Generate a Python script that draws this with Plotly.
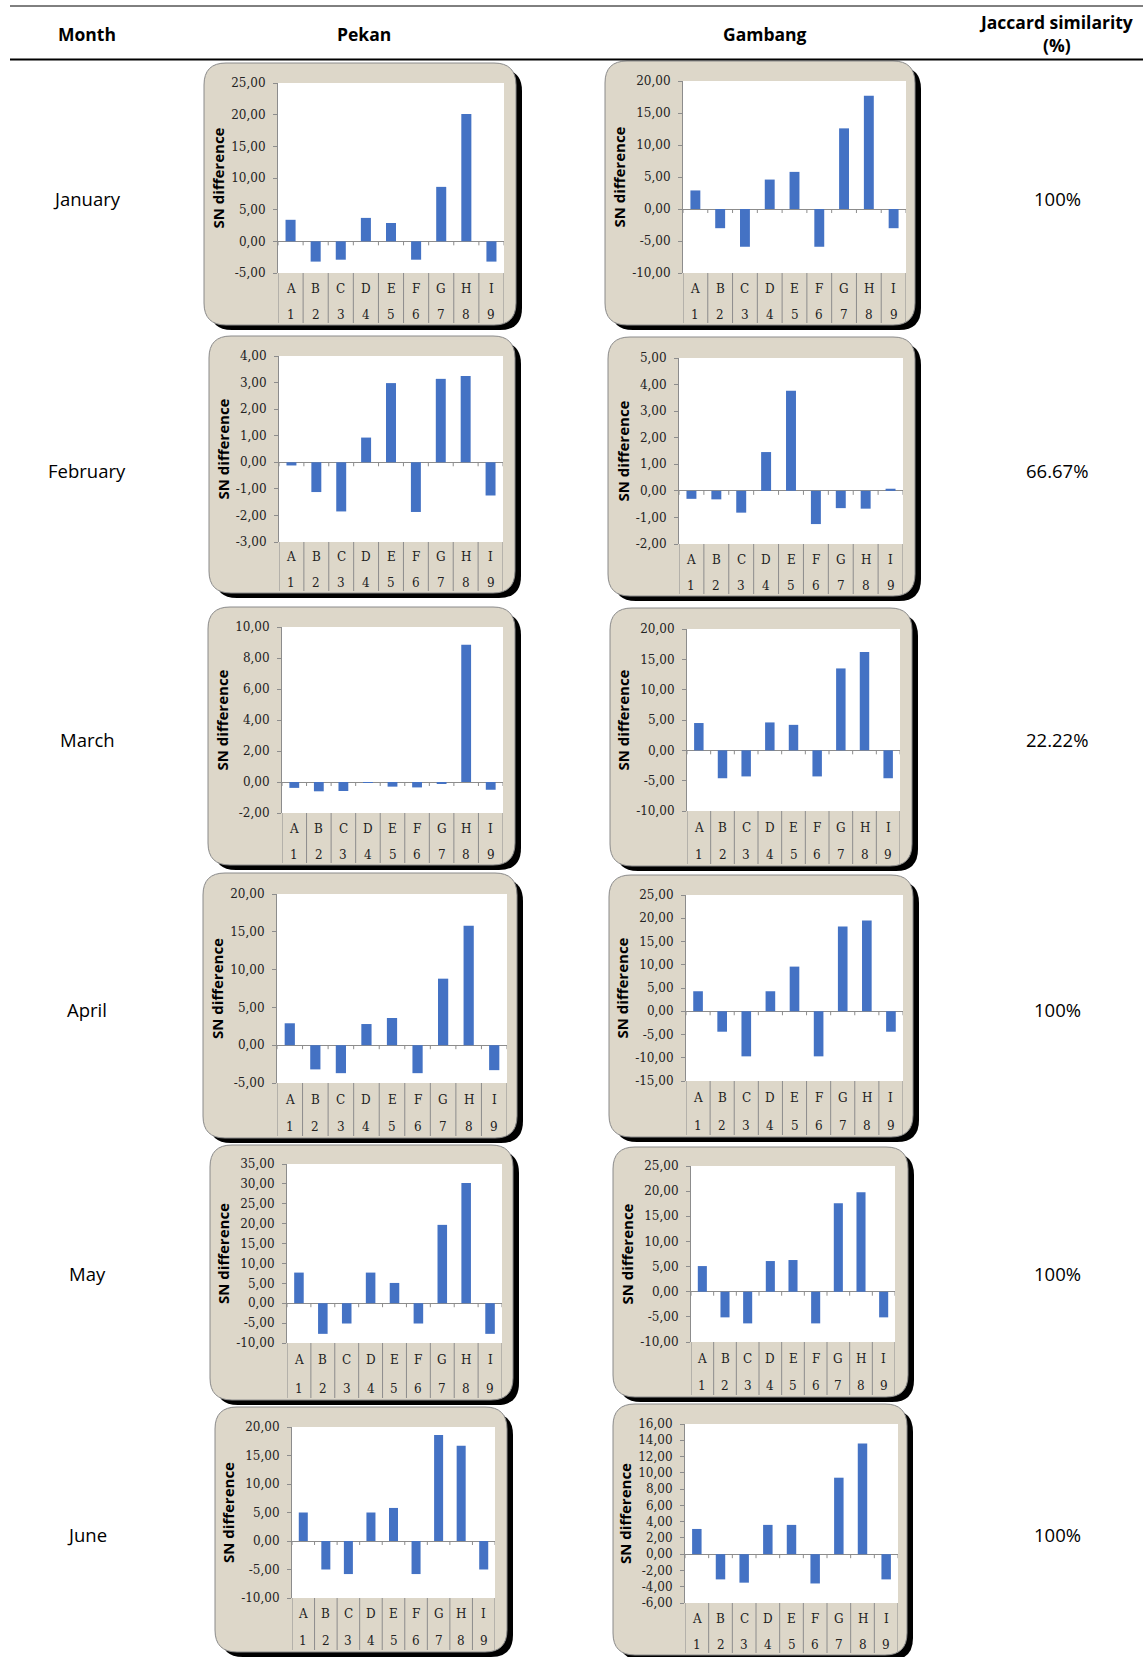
import plotly.graph_objects as go

W, H = 1143, 1657

# ---------------- data ----------------
months = ["January", "February", "March", "April", "May", "June"]
jaccard = ["100%", "66.67%", "22.22%", "100%", "100%", "100%"]
letters = ["A", "B", "C", "D", "E", "F", "G", "H", "I"]
numbers = ["1", "2", "3", "4", "5", "6", "7", "8", "9"]

pekan_jan = [3.4, -3.2, -2.9, 3.7, 2.9, -2.9, 8.6, 20.1, -3.2]
gambang_jan = [2.9, -3.0, -5.9, 4.6, 5.8, -5.9, 12.6, 17.7, -3.0]
pekan_feb = [-0.12, -1.12, -1.85, 0.93, 2.98, -1.87, 3.14, 3.25, -1.25]
gambang_feb = [-0.30, -0.32, -0.82, 1.46, 3.77, -1.25, -0.65, -0.67, 0.08]
pekan_mar = [-0.38, -0.60, -0.58, -0.05, -0.30, -0.35, -0.10, 8.85, -0.50]
gambang_mar = [4.5, -4.6, -4.3, 4.6, 4.2, -4.3, 13.5, 16.2, -4.6]
pekan_apr = [2.9, -3.2, -3.7, 2.8, 3.6, -3.7, 8.8, 15.8, -3.3]
gambang_apr = [4.3, -4.4, -9.7, 4.3, 9.6, -9.7, 18.2, 19.5, -4.4]
pekan_may = [7.7, -7.7, -5.1, 7.7, 5.1, -5.1, 19.7, 30.2, -7.7]
gambang_may = [5.1, -5.1, -6.3, 6.1, 6.3, -6.3, 17.6, 19.8, -5.1]
pekan_jun = [5.0, -5.0, -5.8, 5.0, 5.8, -5.8, 18.6, 16.7, -5.0]
gambang_jun = [3.1, -3.1, -3.5, 3.6, 3.6, -3.6, 9.4, 13.6, -3.1]

series = [pekan_jan, gambang_jan, pekan_feb, gambang_feb, pekan_mar, gambang_mar,
          pekan_apr, gambang_apr, pekan_may, gambang_may, pekan_jun, gambang_jun]

# y-axis ranges / tick steps per chart
yranges = [(-5, 25, 5), (-10, 20, 5), (-3, 4, 1), (-2, 5, 1), (-2, 10, 2), (-10, 20, 5),
           (-5, 20, 5), (-15, 25, 5), (-10, 35, 5), (-10, 25, 5), (-10, 20, 5), (-6, 16, 2)]

# ---------------- layout geometry (pixels) ----------------
frames = [(204, 63, 516, 325), (605, 61, 915, 325),
          (209, 336, 515, 593), (608, 337, 915, 596),
          (208, 607, 515, 865), (610, 608, 912, 866),
          (203, 873, 517, 1138), (609, 875, 913, 1137),
          (210, 1145, 513, 1400), (613, 1147, 908, 1397),
          (215, 1407, 507, 1652), (613, 1404, 907, 1655)]
plots = [(278, 83, 504, 273), (683, 81, 906, 273),
         (279, 356, 503, 542), (679, 358, 903, 544),
         (282, 627, 503, 813), (687, 629, 900, 811),
         (277, 894, 507, 1083), (686, 895, 903, 1081),
         (287, 1164, 502, 1343), (691, 1166, 895, 1342),
         (292, 1427, 495, 1598), (685, 1424, 898, 1603)]
row_y = [198, 470, 739, 1009, 1273, 1534]

BAR = "#4472C4"
AXC = "#8C8C8C"
BEIGE = "#DDD7C9"
SERIF = "DejaVu Serif"
SANS = "Open Sans"
TXT = "#222222"


def px(x):
    return x / W


def py(y):
    return 1 - y / H


def rounded_path(l, t, r, b, rad):
    rx, ry = rad / W, rad / H
    x0, x1 = px(l), px(r)
    y0, y1 = py(b), py(t)
    return (f"M {x0+rx},{y1} L {x1-rx},{y1} Q {x1},{y1} {x1},{y1-ry} "
            f"L {x1},{y0+ry} Q {x1},{y0} {x1-rx},{y0} L {x0+rx},{y0} "
            f"Q {x0},{y0} {x0},{y0+ry} L {x0},{y1-ry} Q {x0},{y1} {x0+rx},{y1} Z")


def fmt(v):
    return f"{v:.2f}".replace(".", ",")


fig = go.Figure()
shapes = []
annotations = []

for i, vals in enumerate(series):
    n = i + 1
    xa = "x" if n == 1 else f"x{n}"
    ya = "y" if n == 1 else f"y{n}"
    fig.add_trace(go.Bar(x=letters, y=vals, marker_color=BAR,
                         marker_line_width=0, xaxis=xa, yaxis=ya,
                         showlegend=False, hoverinfo="skip"))
    l, t, r, b = frames[i]
    pl, pt, pr, pb = plots[i]
    ph = pb - pt
    # shadow + frame + white plot area
    shapes.append(dict(type="path", xref="paper", yref="paper", layer="below",
                       path=rounded_path(l + 6, t + 6, r + 6, b + 5, 22),
                       fillcolor="black", line=dict(width=0)))
    shapes.append(dict(type="path", xref="paper", yref="paper", layer="below",
                       path=rounded_path(l, t, r, b, 22),
                       fillcolor=BEIGE, line=dict(color="#8A8A8A", width=1)))
    shapes.append(dict(type="rect", xref="paper", yref="paper", layer="below",
                       x0=px(pl), x1=px(pr), y0=py(pb), y1=py(pt),
                       fillcolor="white", line=dict(width=0)))
    lo, hi, dt = yranges[i]
    tv = list(range(lo, hi + dt, dt))
    # category dividers below the plot area, and tick marks on the zero line
    depth = (b - 2 - pb) / ph
    tick = 4 * (hi - lo) / ph
    for k in range(len(letters) + 1):
        shapes.append(dict(type="line", xref=xa, yref=f"{ya} domain",
                           x0=k - 0.5, x1=k - 0.5, y0=0, y1=-depth,
                           line=dict(color=AXC, width=1)))
        shapes.append(dict(type="line", xref=xa, yref=ya,
                           x0=k - 0.5, x1=k - 0.5, y0=0, y1=-tick,
                           line=dict(color=AXC, width=1)))
    for let, num in zip(letters, numbers):
        annotations.append(dict(text=let, x=let, xref=xa, yref=f"{ya} domain",
                                y=-(b - pb) * 0.30 / ph, showarrow=False,
                                xanchor="center", yanchor="middle",
                                font=dict(family=SERIF, size=12, color=TXT)))
        annotations.append(dict(text=num, x=let, xref=xa, yref=f"{ya} domain",
                                y=-(b - pb) * 0.80 / ph, showarrow=False,
                                xanchor="center", yanchor="middle",
                                font=dict(family=SERIF, size=12, color=TXT)))
    xk = "xaxis" if n == 1 else f"xaxis{n}"
    yk = "yaxis" if n == 1 else f"yaxis{n}"
    fig.layout[xk] = dict(domain=[px(pl), px(pr)], anchor=ya, type="category",
                          range=[-0.5, len(letters) - 0.5], automargin=False,
                          showline=False, showgrid=False, zeroline=False,
                          ticks="", showticklabels=False, fixedrange=True)
    fig.layout[yk] = dict(domain=[py(pb), py(pt)], anchor=xa, range=[lo, hi],
                          automargin=False,
                          tickmode="array", tickvals=tv, ticktext=[fmt(v) for v in tv],
                          showline=True, linecolor=AXC, linewidth=1,
                          ticks="outside", ticklen=4, tickcolor=AXC,
                          ticklabelstandoff=5,
                          showgrid=False, zeroline=True, zerolinecolor=AXC,
                          zerolinewidth=1,
                          tickfont=dict(family=SERIF, size=12, color=TXT),
                          title=dict(text="SN difference", standoff=2,
                                     font=dict(family=SANS, size=15, color="black",
                                               weight="bold")),
                          fixedrange=True)

# ---------------- table ----------------
shapes.append(dict(type="line", xref="paper", yref="paper", x0=px(10), x1=px(1143),
                   y0=py(6), y1=py(6), line=dict(color="black", width=1)))
shapes.append(dict(type="line", xref="paper", yref="paper", x0=px(10), x1=px(1143),
                   y0=py(59.5), y1=py(59.5), line=dict(color="black", width=2)))

hdr_font = dict(family=SANS, size=17.5, color="black", weight="bold")
for txt, x in [("Month", 87), ("Pekan", 364), ("Gambang", 765),
               ("Jaccard similarity<br>(%)", 1056)]:
    annotations.append(dict(text=txt, x=px(x), y=py(34), xref="paper", yref="paper",
                            showarrow=False, xanchor="center", yanchor="middle",
                            font=hdr_font))

cell_font = dict(family=SANS, size=18.5, color="black")
for m, j, y in zip(months, jaccard, row_y):
    annotations.append(dict(text=m, x=px(87), y=py(y), xref="paper", yref="paper",
                            showarrow=False, xanchor="center", yanchor="middle",
                            font=cell_font))
    annotations.append(dict(text=j, x=px(1057), y=py(y), xref="paper", yref="paper",
                            showarrow=False, xanchor="center", yanchor="middle",
                            font=cell_font))

fig.update_layout(width=W, height=H,
                  margin=dict(l=0, r=0, t=0, b=0, autoexpand=False),
                  paper_bgcolor="white", plot_bgcolor="rgba(0,0,0,0)",
                  bargap=0.6, shapes=shapes,
                  annotations=annotations, showlegend=False)

post = ("var s=document.createElement('style');"
        "s.textContent='html,body{margin:0!important;padding:0!important;overflow:hidden;}"
        "body>div{margin:0;padding:0;line-height:0;font-size:0;}';"
        "document.head.appendChild(s);")
fig.write_html("out.html", config={"displayModeBar": False}, post_script=post)
